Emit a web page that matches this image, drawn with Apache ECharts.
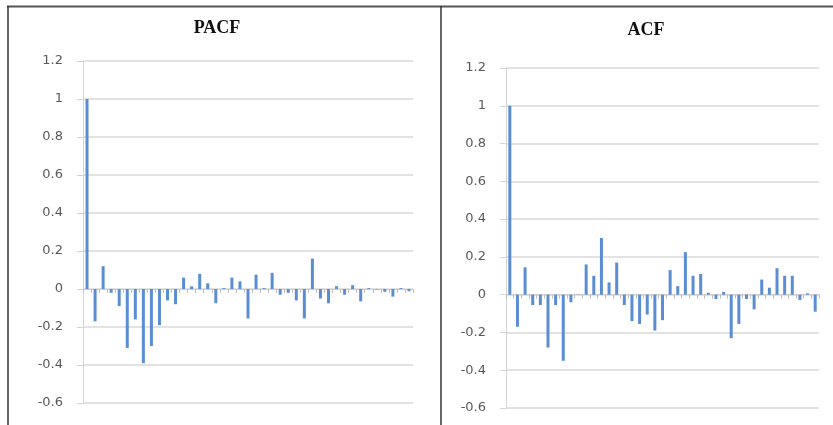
<!DOCTYPE html>
<html>
<head>
<meta charset="utf-8">
<script src="https://cdn.jsdelivr.net/npm/echarts@6/dist/echarts.min.js"></script>
<style>
html,body{margin:0;padding:0;background:#fff;}
#chart{width:833px;height:425px;}
</style>
</head>
<body>
<div id="chart"></div>
<script>
// ---- data ----
var lags = [];
for (var i = 0; i <= 40; i++) lags.push(String(i));

var pacfValues = [1.0, -0.17, 0.12, -0.02, -0.09, -0.31, -0.16, -0.39, -0.30, -0.19,
  -0.06, -0.08, 0.06, 0.014, 0.08, 0.03, -0.075, 0.005, 0.06, 0.04,
  -0.155, 0.075, 0.005, 0.085, -0.03, -0.02, -0.06, -0.155, 0.16, -0.05,
  -0.075, 0.015, -0.03, 0.02, -0.065, 0.005, -0.003, -0.015, -0.04, 0.005, -0.012];

var acfValues = [1.0, -0.17, 0.145, -0.055, -0.055, -0.28, -0.055, -0.35, -0.04, 0.002,
  0.16, 0.10, 0.30, 0.065, 0.17, -0.055, -0.14, -0.155, -0.105, -0.19,
  -0.135, 0.13, 0.045, 0.225, 0.10, 0.11, 0.01, -0.023, 0.014, -0.23,
  -0.155, -0.023, -0.078, 0.08, 0.037, 0.14, 0.10, 0.10, -0.028, 0.007, -0.09];

var yTickLabels = ['-0.6', '-0.4', '-0.2', '0', '0.2', '0.4', '0.6', '0.8', '1', '1.2'];
var titles = ['PACF', 'ACF'];

// ---- chart ----
var chart = echarts.init(document.getElementById('chart'), null, {renderer: 'canvas'});

function yLabel(v) {
  var idx = Math.round((v + 0.6) / 0.2);
  return yTickLabels[idx] !== undefined ? yTickLabels[idx] : '';
}

function makeY(gi) {
  return {
    type: 'value', gridIndex: gi, min: -0.6, max: 1.2, interval: 0.2,
    axisLine: {show: true, lineStyle: {color: '#d4d4d4', width: 1}},
    axisTick: {show: true, inside: false, length: 6, lineStyle: {color: '#d4d4d4'}},
    axisLabel: {formatter: yLabel, margin: 20, color: '#595959', fontSize: 13,
      fontFamily: 'DejaVu Sans'},
    splitLine: {show: true, lineStyle: {color: '#d9d9d9', width: 1.5}}
  };
}
function makeX(gi) {
  return {
    type: 'category', gridIndex: gi, data: lags, boundaryGap: true,
    axisLine: {show: true, onZero: true, lineStyle: {color: '#cfcfcf', width: 1}},
    axisTick: {show: true, interval: 0, length: 4, inside: false, lineStyle: {color: '#bfbfbf'}},
    axisLabel: {show: false},
    splitLine: {show: false}
  };
}

var option = {
  animation: false,
  backgroundColor: '#ffffff',
  title: [
    {text: titles[0], left: 212, top: 14, textAlign: 'center',
      textStyle: {fontFamily: 'Liberation Serif', fontWeight: 'bold', fontSize: 18, color: '#111'}},
    {text: titles[1], left: 641, top: 16, textAlign: 'center',
      textStyle: {fontFamily: 'Liberation Serif', fontWeight: 'bold', fontSize: 18, color: '#111'}}
  ],
  grid: [
    {left: 83, right: 420, top: 61, bottom: 22, containLabel: false},
    {left: 506, right: 14, top: 68, bottom: 17, containLabel: false}
  ],
  xAxis: [makeX(0), makeX(1)],
  yAxis: [makeY(0), makeY(1)],
  series: [
    {type: 'bar', xAxisIndex: 0, yAxisIndex: 0, data: pacfValues, barWidth: 3,
      itemStyle: {color: '#5b8dd3'}},
    {type: 'bar', xAxisIndex: 1, yAxisIndex: 1, data: acfValues, barWidth: 3,
      itemStyle: {color: '#5b8dd3'}}
  ],
  graphic: [
    {type: 'line', shape: {x1: 7, y1: 6.5, x2: 833, y2: 6.5}, style: {stroke: '#555', lineWidth: 2}},
    {type: 'line', shape: {x1: 8, y1: 6, x2: 8, y2: 425}, style: {stroke: '#333', lineWidth: 1.5}},
    {type: 'line', shape: {x1: 441, y1: 6, x2: 441, y2: 425}, style: {stroke: '#333', lineWidth: 1.5}}
  ]
};
chart.setOption(option);
</script>
</body>
</html>
